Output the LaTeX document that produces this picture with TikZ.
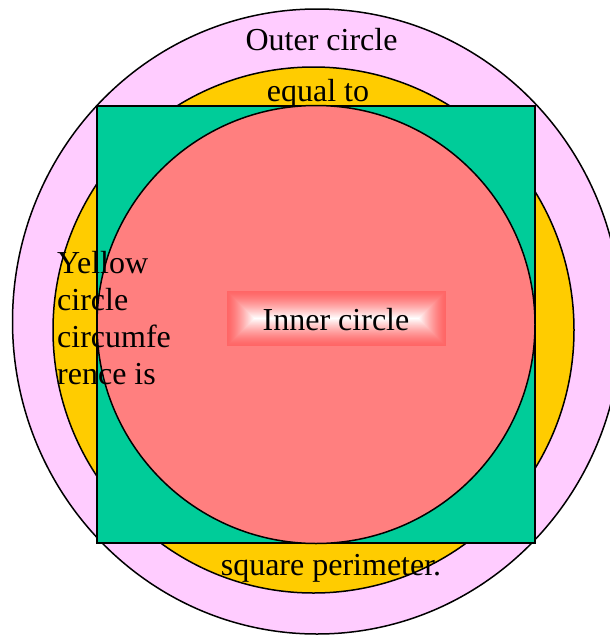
\documentclass[tikz,border=0pt]{standalone}
\usepackage{fontspec}
\setmainfont{Liberation Serif}
\usepackage{xcolor}
\usepackage{tikz}
\usetikzlibrary{positioning, calc}

\definecolor{outerpink}{HTML}{FFCCFF}
\definecolor{yellowring}{HTML}{FFCC00}
\definecolor{squaregreen}{HTML}{00CC99}
\definecolor{innerred}{HTML}{FF7F7F}
\definecolor{glowred}{HTML}{FF6666}

\begin{document}
\begin{tikzpicture}[x=1pt, y=-1pt,
    every node/.style={font=\fontsize{32}{37}\selectfont, inner sep=0pt},
    rim/.style={draw=black, line width=1.5pt}]
    \useasboundingbox (0,0) rectangle (610,635);
    \clip (0,0) rectangle (610,635);

    \coordinate (OuterC) at (317,321.5);
    \coordinate (YellowC) at (313.5,330);
    \coordinate (SqNW) at (97,106);
    \coordinate (SqSE) at (535,543);
    \coordinate (InnerC) at (316,324.5);

    % rings from the outside in
    \filldraw[rim, fill=outerpink] (OuterC) ellipse [x radius=304.5pt, y radius=312.5pt];
    \node[anchor=base] (outerlabel) at (321.5,50) {Outer circle};
    \filldraw[rim, fill=yellowring] (YellowC) ellipse [x radius=260.5pt, y radius=263pt];
    \node[anchor=base] (equallabel) at (318,101) {equal to};
    \node[anchor=base] (perimlabel) at (331,575) {square perimeter.};
    \filldraw[rim, fill=squaregreen] (SqNW) rectangle (SqSE);
    \filldraw[rim, fill=innerred] (InnerC) circle [radius=219pt];

    % label box, red rim fading to white
    \node[minimum width=219pt, minimum height=55pt] (innerbox) at (336.5,318.5) {};
    \foreach \k in {0,...,27} {
        \pgfmathsetmacro\mix{100*(1-(\k/27)^1.4)}
        \fill[glowred!\mix!white] ($(innerbox.north west)+(\k,\k)$) rectangle ($(innerbox.south east)+(-\k,-\k)$);
    }
    \node[anchor=base] (innerlabel) at (336,330) {Inner circle};
    \node[anchor=north west, align=left] (yellowlabel) at (57,251) {Yellow\\circle\\circumfe\\rence is};
\end{tikzpicture}
\end{document}
